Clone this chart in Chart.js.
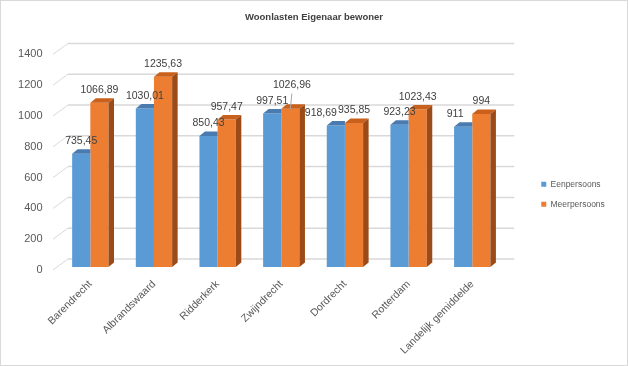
<!DOCTYPE html>
<html>
<head>
<meta charset="utf-8">
<script src="https://cdn.jsdelivr.net/npm/chart.js@4/dist/chart.umd.min.js"></script>
<style>
html,body{margin:0;padding:0;background:#fff;}
#wrap{width:628px;height:366px;position:relative;}
</style>
</head>
<body>
<div id="wrap"><canvas id="c" width="628" height="366"></canvas></div>
<script>
// ---- data ----
const categories = ['Barendrecht','Albrandswaard','Ridderkerk','Zwijndrecht','Dordrecht','Rotterdam','Landelijk gemiddelde'];
const eenpersoons = [735.45, 1030.01, 850.43, 997.51, 918.69, 923.23, 911];
const meerpersoons = [1066.89, 1235.63, 957.47, 1026.96, 935.85, 1023.43, 994];
const seriesNames = ['Eenpersoons','Meerpersoons'];
const yTicks = [0, 200, 400, 600, 800, 1000, 1200, 1400];
const chartTitle = 'Woonlasten Eigenaar bewoner';

// ---- style ----
const FONT = "'Liberation Sans', Arial, sans-serif";
const BLUE = '#5b9bd5', BLUE_TOP = '#4a7bb0';
const ORANGE = '#ed7d31', ORANGE_TOP = '#c9611d', ORANGE_SIDE = '#9c4a17';
const DX = 5.5, DY = 4.5;          // bar depth
const WALL_DX = 9.5, WALL_DY = 8;  // back wall offset
// label nudges (placement only)
const labelNudge = { '0-4': {dx: -15, dy: 0}, '0-6': {dx: -8, dy: 0}, '1-3': {dx: 1.5, dy: -11.7, leader: true} };

Chart.defaults.font.family = FONT;

const fmt = v => String(v).replace('.', ',');

const depthPlugin = {
  id: 'depth',
  beforeDatasetsDraw(chart) {
    const {ctx, chartArea: a, scales: {y}} = chart;
    ctx.save();
    ctx.strokeStyle = '#d9d9d9';
    yTicks.forEach(v => {
      const p = y.getPixelForValue(v);
      ctx.lineWidth = 1.5;
      ctx.beginPath();
      ctx.moveTo(a.left + WALL_DX, p - WALL_DY);
      ctx.lineTo(a.right + 10.2, p - WALL_DY);
      ctx.stroke();
      ctx.lineWidth = 1;
      ctx.beginPath();
      ctx.moveTo(a.left - 5.5, p + 3);
      ctx.lineTo(a.left + WALL_DX, p - WALL_DY);
      ctx.stroke();
    });
    ctx.restore();
  },
  afterDatasetsDraw(chart) {
    const {ctx} = chart;
    const m0 = chart.getDatasetMeta(0), m1 = chart.getDatasetMeta(1);
    ctx.save();
    categories.forEach((c, i) => {
      const b = m0.data[i].getProps(['x','y','base','width'], true);
      let x0 = b.x - b.width/2, x1 = b.x + b.width/2, yt = b.y;
      ctx.fillStyle = BLUE_TOP;
      ctx.beginPath();
      ctx.moveTo(x0, yt); ctx.lineTo(x1, yt); ctx.lineTo(x1, yt - DY); ctx.lineTo(x0 + DX, yt - DY);
      ctx.closePath(); ctx.fill();

      const o = m1.data[i].getProps(['x','y','base','width'], true);
      x0 = o.x - o.width/2; x1 = o.x + o.width/2; yt = o.y;
      ctx.fillStyle = ORANGE_TOP;
      ctx.beginPath();
      ctx.moveTo(x0, yt); ctx.lineTo(x1, yt); ctx.lineTo(x1 + DX, yt - DY); ctx.lineTo(x0 + DX, yt - DY);
      ctx.closePath(); ctx.fill();
      ctx.fillStyle = ORANGE_SIDE;
      ctx.beginPath();
      ctx.moveTo(x1, yt); ctx.lineTo(x1 + DX, yt - DY); ctx.lineTo(x1 + DX, o.base - DY); ctx.lineTo(x1, o.base);
      ctx.closePath(); ctx.fill();
    });
    // data labels
    ctx.font = '10.5px ' + FONT;
    ctx.fillStyle = '#404040';
    ctx.textAlign = 'center';
    ctx.textBaseline = 'middle';
    [m0, m1].forEach((meta, d) => {
      const vals = chart.data.datasets[d].data;
      meta.data.forEach((el, i) => {
        const n = labelNudge[d + '-' + i] || {dx: 0, dy: 0};
        const lx = el.x + n.dx, ly = el.y - 12.5 + n.dy;
        if (n.leader) {
          ctx.save();
          ctx.strokeStyle = '#a6a6a6'; ctx.lineWidth = 1;
          ctx.beginPath(); ctx.moveTo(lx, ly + 9); ctx.lineTo(el.x, el.y); ctx.stroke();
          ctx.restore();
        }
        ctx.fillText(fmt(vals[i]), lx, ly);
      });
    });
    ctx.restore();
  },
  afterDraw(chart) {
    const {ctx} = chart;
    ctx.save();
    ctx.strokeStyle = '#d9d9d9';
    ctx.lineWidth = 1;
    ctx.strokeRect(0.5, 0.5, 627, 365);
    ctx.restore();
  }
};

new Chart(document.getElementById('c'), {
  type: 'bar',
  data: {
    labels: categories,
    datasets: [
      {label: seriesNames[0], data: eenpersoons, backgroundColor: BLUE, borderWidth: 0},
      {label: seriesNames[1], data: meerpersoons, backgroundColor: ORANGE, borderWidth: 0}
    ]
  },
  options: {
    responsive: false,
    animation: false,
    events: [],
    layout: {padding: {left: 13.15, right: 13.15, top: 0, bottom: 0}},
    datasets: {bar: {categoryPercentage: 0.571, barPercentage: 1}},
    scales: {
      x: {
        grid: {display: false, drawTicks: false},
        border: {display: false},
        ticks: {autoSkip: false, minRotation: 45, maxRotation: 45, padding: 11, color: '#595959', font: {size: 10.5}},
        afterFit(s) { s.height = 99; }
      },
      y: {
        min: 0, max: 1400,
        grid: {display: false, drawTicks: false},
        border: {display: false},
        ticks: {stepSize: 200, padding: 16, labelOffset: 3, color: '#595959', font: {size: 11}, callback: v => String(v)},
        afterFit(s) { s.width = 45.35; }
      },
      y2: {
        position: 'right',
        display: true,
        grid: {display: false, drawTicks: false},
        border: {display: false},
        ticks: {display: false},
        afterFit(s) { s.width = 25.7; }
      }
    },
    plugins: {
      tooltip: {enabled: false},
      title: {
        display: true, text: chartTitle, color: '#404040',
        font: {size: 9.5, weight: 'bold'},
        padding: {top: 11.3, bottom: 28.7}
      },
      legend: {
        position: 'right',
        title: {display: true, text: '', font: {size: 10}, padding: {top: 0, bottom: 10.5}},
        labels: {boxWidth: 5, boxHeight: 5, padding: 11.5, color: '#595959', font: {size: 8.5}}
      }
    }
  },
  plugins: [depthPlugin]
});
</script>
</body>
</html>
